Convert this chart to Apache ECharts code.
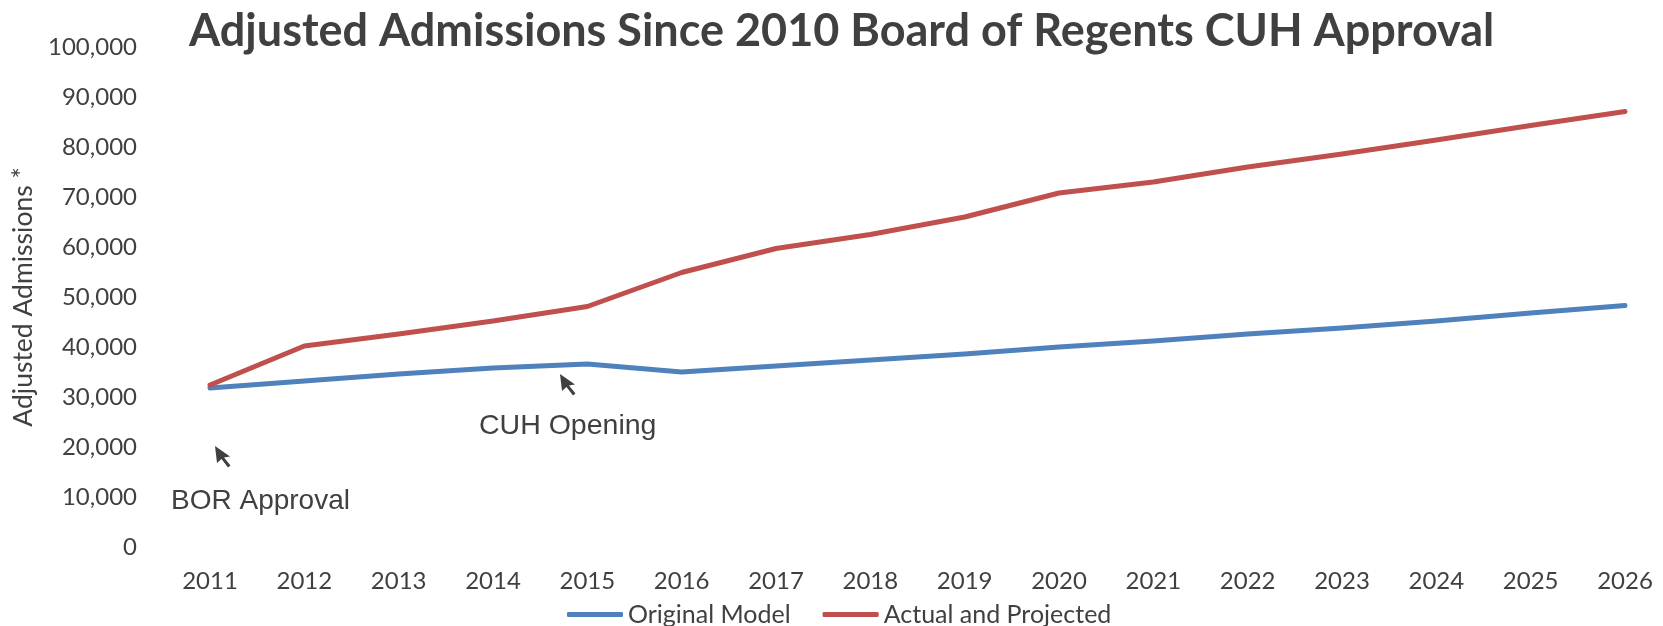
<!DOCTYPE html>
<html>
<head>
<meta charset="utf-8">
<script src="https://cdn.jsdelivr.net/npm/echarts@6/dist/echarts.min.js"></script>
<style>
    html, body { margin: 0; padding: 0; background: #fff; }
    #chart { width: 1663px; height: 626px; }
</style>
</head>
<body>
<div id="chart"></div>
<script>
// years on the x axis
const years = ["2011", "2012", "2013", "2014", "2015", "2016", "2017", "2018",
    "2019", "2020", "2021", "2022", "2023", "2024", "2025", "2026"];

// adjusted admissions
const originalModel = [31800, 33200, 34600, 35800, 36600, 35000, 36200, 37400,
    38600, 40000, 41200, 42600, 43800, 45200, 46800, 48300];
const actualProjected = [32400, 40200, 42600, 45200, 48100, 54900, 59700, 62500,
    66000, 70800, 73000, 76000, 78600, 81400, 84300, 87100];

const seriesNames = ["Original Model", "Actual and Projected"];
const annotations = ["BOR Approval", "CUH Opening"];

const textColor = "#404040";
const labelFont = "Lato";

// small mouse-pointer style arrow, tip at 0,0
const arrowPoints = [[0, 0], [2, 17], [6.5, 13], [13, 21.5], [15.5, 19.5], [9, 11.5], [15, 10.5]];

const chart = echarts.init(document.getElementById("chart"));
chart.setOption({
    animation: false,
    backgroundColor: "#fff",
    title: {
        text: "Adjusted Admissions Since 2010 Board of Regents CUH Approval",
        left: 184,
        top: 4,
        textStyle: {
            fontFamily: labelFont,
            fontWeight: "bold",
            fontSize: 45,
            color: textColor
        }
    },
    grid: {
        left: 210,
        right: 38,
        top: 47,
        bottom: 79
    },
    legend: {
        left: 562,
        top: 597,
        itemWidth: 56,
        itemHeight: 5,
        itemGap: 32,
        icon: "roundRect",
        textStyle: {
            fontFamily: labelFont,
            fontSize: 25,
            color: textColor
        },
        data: seriesNames
    },
    xAxis: {
        type: "category",
        boundaryGap: false,
        data: years,
        axisLine: { show: false },
        axisTick: { show: false },
        splitLine: { show: false },
        axisLabel: {
            margin: 22,
            fontFamily: labelFont,
            fontSize: 24,
            color: textColor
        }
    },
    yAxis: {
        type: "value",
        min: 0,
        max: 100000,
        interval: 10000,
        name: "Adjusted Admissions *",
        nameLocation: "middle",
        nameRotate: 90,
        nameGap: 171,
        nameTextStyle: {
            fontFamily: labelFont,
            fontSize: 26.5,
            color: textColor
        },
        axisLine: { show: false },
        axisTick: { show: false },
        splitLine: { show: false },
        axisLabel: {
            margin: 73,
            fontFamily: labelFont,
            fontSize: 24,
            color: textColor,
            formatter: v => v.toLocaleString("en-US")
        }
    },
    graphic: [
        {
            type: "text",
            left: 171,
            top: 487,
            style: {
                text: annotations[0],
                font: "28px 'Liberation Sans'",
                fill: textColor
            }
        },
        {
            type: "polygon",
            x: 215,
            y: 446,
            shape: { points: arrowPoints },
            style: { fill: textColor }
        },
        {
            type: "text",
            left: 479,
            top: 412,
            style: {
                text: annotations[1],
                font: "28.5px 'Liberation Sans'",
                fill: textColor
            }
        },
        {
            type: "polygon",
            x: 560,
            y: 374,
            shape: { points: arrowPoints },
            style: { fill: textColor }
        }
    ],
    series: [
        {
            name: seriesNames[0],
            type: "line",
            symbol: "none",
            color: "#4F81BD",
            lineStyle: { width: 5, cap: "round", join: "round" },
            data: originalModel
        },
        {
            name: seriesNames[1],
            type: "line",
            symbol: "none",
            color: "#C0504D",
            lineStyle: { width: 5, cap: "round", join: "round" },
            data: actualProjected
        }
    ]
});
</script>
</body>
</html>
